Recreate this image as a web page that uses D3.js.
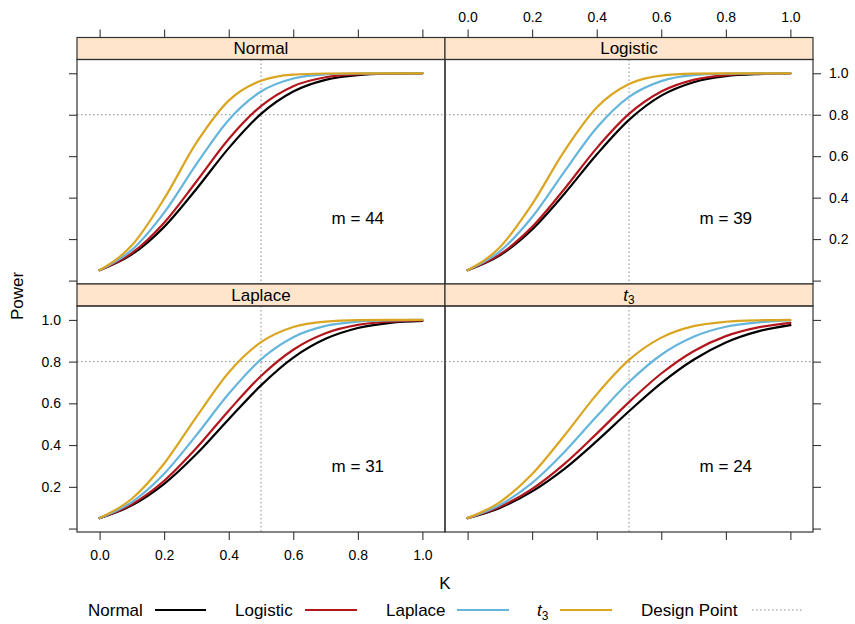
<!DOCTYPE html>
<html><head><meta charset="utf-8">
<script src="https://cdn.jsdelivr.net/npm/d3@7"></script>
<style>
body{margin:0;background:#fff;}
svg text{font-family:"Liberation Sans",Arial,Helvetica,sans-serif;fill:#000;}
</style></head>
<body><svg id="chart" width="855" height="624"></svg>
<script>
// ---- data ----
const K = [0, 0.1, 0.2, 0.3, 0.4, 0.5, 0.6, 0.7, 0.8, 0.9, 1.0];
const panelNames = ["Normal", "Logistic", "Laplace", "t3"];
const mValues = [44, 39, 31, 24];
const seriesNames = ["Normal", "Logistic", "Laplace", "t3"];
const seriesColors = ["#000000", "#b3171d", "#66b5dc", "#daa520"];
const xTicks = [0, 0.2, 0.4, 0.6, 0.8, 1.0];
const yTicks = [0, 0.2, 0.4, 0.6, 0.8, 1.0];
const designK = 0.5;
const designPower = 0.8;

// panel "Normal"
const pNormal_Normal   = [0.05, 0.126, 0.259, 0.442, 0.639, 0.804, 0.912, 0.968, 0.991, 0.998, 1.000];
const pNormal_Logistic = [0.05, 0.132, 0.279, 0.478, 0.683, 0.842, 0.938, 0.981, 0.995, 0.999, 1.000];
const pNormal_Laplace  = [0.05, 0.148, 0.328, 0.562, 0.775, 0.912, 0.975, 0.995, 0.999, 1.000, 1.000];
const pNormal_t3       = [0.05, 0.170, 0.395, 0.665, 0.868, 0.964, 0.994, 0.999, 1.000, 1.000, 1.000];
// panel "Logistic"
const pLogistic_Normal   = [0.05, 0.122, 0.247, 0.419, 0.608, 0.775, 0.892, 0.957, 0.986, 0.996, 0.999];
const pLogistic_Logistic = [0.05, 0.126, 0.259, 0.442, 0.639, 0.804, 0.912, 0.968, 0.991, 0.998, 1.000];
const pLogistic_Laplace  = [0.05, 0.141, 0.307, 0.526, 0.737, 0.886, 0.962, 0.991, 0.998, 1.000, 1.000];
const pLogistic_t3       = [0.05, 0.161, 0.369, 0.626, 0.835, 0.948, 0.989, 0.998, 1.000, 1.000, 1.000];
// panel "Laplace"
const pLaplace_Normal   = [0.05, 0.111, 0.214, 0.357, 0.524, 0.686, 0.819, 0.909, 0.961, 0.986, 0.995];
const pLaplace_Logistic = [0.05, 0.116, 0.229, 0.386, 0.565, 0.731, 0.857, 0.936, 0.976, 0.992, 0.998];
const pLaplace_Laplace  = [0.05, 0.127, 0.263, 0.448, 0.646, 0.811, 0.917, 0.971, 0.992, 0.998, 1.000];
const pLaplace_t3       = [0.05, 0.143, 0.312, 0.535, 0.748, 0.893, 0.966, 0.992, 0.999, 1.000, 1.000];
// panel "t3"
const pT3_Normal   = [0.05, 0.099, 0.178, 0.286, 0.419, 0.562, 0.697, 0.809, 0.892, 0.945, 0.975];
const pT3_Logistic = [0.05, 0.104, 0.190, 0.310, 0.455, 0.606, 0.743, 0.850, 0.922, 0.964, 0.986];
const pT3_Laplace  = [0.05, 0.113, 0.219, 0.367, 0.538, 0.702, 0.833, 0.919, 0.967, 0.988, 0.997];
const pT3_t3       = [0.05, 0.127, 0.261, 0.446, 0.643, 0.808, 0.915, 0.970, 0.991, 0.998, 1.000];

const panelSeries = [
  [pNormal_Normal, pNormal_Logistic, pNormal_Laplace, pNormal_t3],
  [pLogistic_Normal, pLogistic_Logistic, pLogistic_Laplace, pLogistic_t3],
  [pLaplace_Normal, pLaplace_Logistic, pLaplace_Laplace, pLaplace_t3],
  [pT3_Normal, pT3_Logistic, pT3_Laplace, pT3_t3]
];

// ---- layout ----
const svg = d3.select("#chart");
const cols = [[77, 445], [445, 813]];
const rows = [ {strip: [37.5, 59.5], plot: [59.5, 284]}, {strip: [284, 306], plot: [306, 532]} ];
const xDom = [-0.07, 1.07];
const yDom = [-0.0165, 1.0665];
const fmt = d3.format(".1f");
const labelFmt = d => d === 0 ? "" : fmt(d);

function writeLabel(sel, name, size) {
  if (name === "t3") {
    sel.append("tspan").attr("font-style", "italic").text("t");
    sel.append("tspan").attr("font-size", size * 0.7).attr("dy", "0.3em").text("3");
  } else sel.text(name);
}

panelNames.forEach((name, i) => {
  const r = Math.floor(i / 2), c = i % 2;
  const [x0, x1] = cols[c];
  const row = rows[r];
  const x = d3.scaleLinear().domain(xDom).range([x0, x1]);
  const y = d3.scaleLinear().domain(yDom).range([row.plot[1], row.plot[0]]);
  const g = svg.append("g");

  // strip
  g.append("rect").attr("x", x0).attr("y", row.strip[0]).attr("width", x1 - x0)
    .attr("height", row.strip[1] - row.strip[0]).attr("fill", "#ffe5cc")
    .attr("stroke", "#333").attr("stroke-width", 1.2);
  const st = g.append("text").attr("x", (x0 + x1) / 2).attr("y", row.strip[1] - 5.5)
    .attr("text-anchor", "middle").attr("font-size", 17);
  writeLabel(st, name, 17);

  // reference lines
  g.append("line").attr("x1", x0).attr("x2", x1).attr("y1", y(designPower)).attr("y2", y(designPower))
    .attr("stroke", "#8c8c8c").attr("stroke-dasharray", "1.5,2.5");
  g.append("line").attr("x1", x(designK)).attr("x2", x(designK)).attr("y1", row.plot[0]).attr("y2", row.plot[1])
    .attr("stroke", "#8c8c8c").attr("stroke-dasharray", "1.5,2.5");

  // curves
  const line = d3.line().x((d, j) => x(K[j])).y(d => y(d)).curve(d3.curveMonotoneX);
  panelSeries[i].forEach((vals, s) => {
    g.append("path").attr("d", line(vals)).attr("fill", "none")
      .attr("stroke", seriesColors[s]).attr("stroke-width", 2.2)
      .attr("stroke-linejoin", "round").attr("stroke-linecap", "round");
  });

  // panel border
  g.append("rect").attr("x", x0).attr("y", row.plot[0]).attr("width", x1 - x0)
    .attr("height", row.plot[1] - row.plot[0]).attr("fill", "none")
    .attr("stroke", "#333").attr("stroke-width", 1.2);

  // m label
  g.append("text").attr("x", x(0.8)).attr("y", y(0.3)).attr("dy", "0.35em")
    .attr("text-anchor", "middle").attr("font-size", 17).text("m = " + mValues[i]);

  // axes
  const styleAxis = ax => {
    ax.select(".domain").remove();
    ax.selectAll(".tick line").attr("stroke", "#222");
    ax.selectAll(".tick text").attr("font-size", 14).attr("font-family", "Liberation Sans, Arial, sans-serif").attr("fill", "#222");
  };
  if (c === 0) {
    const ax = svg.append("g").attr("transform", `translate(${x0},0)`)
      .call(d3.axisLeft(y).tickValues(yTicks).tickSize(8).tickPadding(8)
        .tickFormat(r === 1 ? labelFmt : () => ""));
    styleAxis(ax);
  } else {
    const ax = svg.append("g").attr("transform", `translate(${x1},0)`)
      .call(d3.axisRight(y).tickValues(yTicks).tickSize(8).tickPadding(8)
        .tickFormat(r === 0 ? labelFmt : () => ""));
    styleAxis(ax);
  }
  if (r === 0) {
    const ax = svg.append("g").attr("transform", `translate(0,${row.strip[0]})`)
      .call(d3.axisTop(x).tickValues(xTicks).tickSize(8).tickPadding(8)
        .tickFormat(c === 1 ? fmt : () => ""));
    styleAxis(ax);
  } else {
    const ax = svg.append("g").attr("transform", `translate(0,${row.plot[1]})`)
      .call(d3.axisBottom(x).tickValues(xTicks).tickSize(8).tickPadding(10)
        .tickFormat(c === 0 ? fmt : () => ""));
    styleAxis(ax);
  }
});

// axis titles
svg.append("text").attr("x", 445).attr("y", 589).attr("text-anchor", "middle")
  .attr("font-size", 17).text("K");
svg.append("text").attr("transform", "translate(23,296) rotate(-90)")
  .attr("text-anchor", "middle").attr("font-size", 17).text("Power");

// legend
const legendItems = [
  {name: "Normal", tx: 88, lx: [155, 206], color: seriesColors[0], dash: null},
  {name: "Logistic", tx: 235, lx: [305, 357], color: seriesColors[1], dash: null},
  {name: "Laplace", tx: 386, lx: [457, 509], color: seriesColors[2], dash: null},
  {name: "t3", tx: 537, lx: [560, 612], color: seriesColors[3], dash: null},
  {name: "Design Point", tx: 641, lx: [752, 802], color: "#8c8c8c", dash: "1.5,2.5"}
];
const lg = svg.append("g");
legendItems.forEach(it => {
  const t = lg.append("text").attr("x", it.tx).attr("y", 616).attr("font-size", 17);
  writeLabel(t, it.name, 17);
  lg.append("line").attr("x1", it.lx[0]).attr("x2", it.lx[1]).attr("y1", 610).attr("y2", 610)
    .attr("stroke", it.color).attr("stroke-width", it.dash ? 1 : 2)
    .attr("stroke-dasharray", it.dash);
});
</script></body></html>
